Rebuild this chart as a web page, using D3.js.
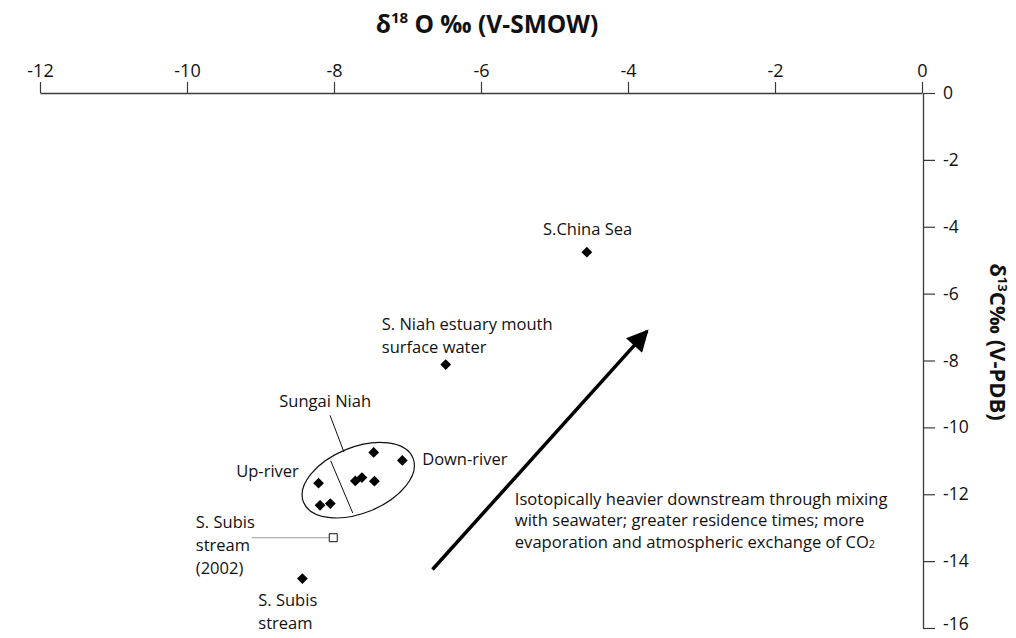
<!DOCTYPE html>
<html>
<head>
<meta charset="utf-8">
<script src="https://cdn.jsdelivr.net/npm/d3@7"></script>
<style>
  html, body { margin: 0; padding: 0; background: #fff; }
  svg { display: block; font-family: "Open Sans", "Noto Sans", sans-serif; }
</style>
</head>
<body>
<svg id="chart" width="1016" height="638"></svg>
<script>
// Isotope values: δ18O (‰ V-SMOW) and δ13C (‰ V-PDB)
const seaD18O = [-4.56];
const seaD13C = [-4.76];

const estuaryD18O = [-6.48];
const estuaryD13C = [-8.12];

// Sungai Niah river water samples
const niahD18O = [-7.46, -7.07, -8.21, -7.71, -7.62, -7.45, -8.19, -8.05];
const niahD13C = [-10.75, -10.99, -11.67, -11.60, -11.50, -11.61, -12.33, -12.28];

const subis2002D18O = [-8.01];
const subis2002D13C = [-13.30];

const subisD18O = [-8.43];
const subisD13C = [-14.52];

const xTicks = [-12, -10, -8, -6, -4, -2, 0];
const yTicks = [0, -2, -4, -6, -8, -10, -12, -14, -16];

const svg = d3.select("#chart");

const x = d3.scaleLinear().domain([-12, 0]).range([40, 922]);
const y = d3.scaleLinear().domain([0, -16]).range([93, 628]);

const axisColor = "#3a3a3a";

// Top axis (δ18O)
const gx = svg.append("g")
  .attr("transform", `translate(0,${y(0)})`)
  .call(d3.axisTop(x).tickValues(xTicks).tickSize(11).tickSizeOuter(0).tickPadding(5)
    .tickFormat(d => String(d)));
gx.select(".domain").attr("stroke", axisColor).attr("stroke-width", 1.3);
gx.selectAll(".tick line").attr("stroke", axisColor).attr("stroke-width", 1.2);
gx.selectAll(".tick text").attr("font-size", 18).attr("fill", "#111")
  .attr("font-family", "'Open Sans', sans-serif");

// Right axis (δ13C)
const gy = svg.append("g")
  .attr("transform", `translate(${x(0) + 1},0)`)
  .call(d3.axisRight(y).tickValues(yTicks).tickSize(12).tickSizeOuter(0).tickPadding(8)
    .tickFormat(d => String(d)));
gy.select(".domain").attr("stroke", axisColor).attr("stroke-width", 1.3);
gy.selectAll(".tick line").attr("stroke", axisColor).attr("stroke-width", 1.2);
gy.selectAll(".tick text").attr("font-size", 17.5).attr("fill", "#111")
  .attr("font-family", "'Open Sans', sans-serif");
// keep the lowest label inside the frame
gy.selectAll(".tick text").filter(d => d === -16).attr("dy", "0.1em");

// Axis titles
const xTitle = svg.append("text")
  .attr("x", 487).attr("y", 33)
  .attr("text-anchor", "middle")
  .attr("font-size", 24.5).attr("font-weight", "bold").attr("fill", "#111");
xTitle.append("tspan").text("δ");
xTitle.append("tspan").attr("font-size", 15).attr("dy", -10).text("18");
xTitle.append("tspan").attr("dy", 10).text(" O ‰ (V-SMOW)");

const yTitle = svg.append("text")
  .attr("transform", `translate(990,${342}) rotate(90)`)
  .attr("text-anchor", "middle")
  .attr("font-size", 22).attr("font-weight", "bold").attr("fill", "#111");
yTitle.append("tspan").text("δ");
yTitle.append("tspan").attr("font-size", 13).attr("dy", -8).text("13");
yTitle.append("tspan").attr("dy", 8).text("C‰ (V-PDB)");

// Mixing trend arrow
const defs = svg.append("defs");
defs.append("marker")
  .attr("id", "head")
  .attr("viewBox", "0 0 10 10")
  .attr("refX", 9).attr("refY", 5)
  .attr("markerWidth", 7).attr("markerHeight", 6.2)
  .attr("markerUnits", "strokeWidth")
  .attr("orient", "auto")
  .append("path").attr("d", "M0,0 L10,5 L0,10 Z").attr("fill", "#000");

const arrowFrom = [-6.66, -14.25];
const arrowTo = [-3.74, -7.12];
svg.append("line")
  .attr("x1", x(arrowFrom[0])).attr("y1", y(arrowFrom[1]))
  .attr("x2", x(arrowTo[0])).attr("y2", y(arrowTo[1]))
  .attr("stroke", "#000").attr("stroke-width", 3.5)
  .attr("marker-end", "url(#head)");

// Sungai Niah grouping ellipse with up-/down-river divider
const ellCenter = [-7.67, -11.58];
svg.append("ellipse")
  .attr("transform", `translate(${x(ellCenter[0])},${y(ellCenter[1])}) rotate(-22)`)
  .attr("rx", 59).attr("ry", 33)
  .attr("fill", "none").attr("stroke", "#111").attr("stroke-width", 1.2);

svg.append("line")
  .attr("x1", x(-8.045)).attr("y1", y(-11.00))
  .attr("x2", x(-7.745)).attr("y2", y(-12.56))
  .attr("stroke", "#111").attr("stroke-width", 1);

svg.append("line")
  .attr("x1", x(-8.054)).attr("y1", y(-9.64))
  .attr("x2", x(-7.864)).attr("y2", y(-10.74))
  .attr("stroke", "#111").attr("stroke-width", 1);

// Leader for the 2002 S. Subis sample
svg.append("line")
  .attr("x1", x(-9.12)).attr("y1", y(subis2002D13C[0]))
  .attr("x2", x(subis2002D18O[0]) - 4).attr("y2", y(subis2002D13C[0]))
  .attr("stroke", "#999").attr("stroke-width", 1);

// Filled diamond markers
const diamond = d3.symbol(d3.symbolSquare, 58);
function diamonds(xs, ys) {
  svg.append("g").selectAll("path")
    .data(xs.map((v, i) => [v, ys[i]]))
    .join("path")
    .attr("d", diamond)
    .attr("transform", d => `translate(${x(d[0])},${y(d[1])}) rotate(45)`)
    .attr("fill", "#000");
}
diamonds(seaD18O, seaD13C);
diamonds(estuaryD18O, estuaryD13C);
diamonds(niahD18O, niahD13C);
diamonds(subisD18O, subisD13C);

// Open square marker (2002 sample)
svg.append("g").selectAll("path")
  .data(subis2002D18O.map((v, i) => [v, subis2002D13C[i]]))
  .join("path")
  .attr("d", d3.symbol(d3.symbolSquare, 64))
  .attr("transform", d => `translate(${x(d[0])},${y(d[1])})`)
  .attr("fill", "#fff").attr("stroke", "#111").attr("stroke-width", 1);

// Labels
const labels = [
  { lines: ["S.China Sea"], at: [-4.55, -4.26], anchor: "middle" },
  { lines: ["S. Niah estuary mouth", "surface water"], at: [-7.35, -7.08], anchor: "start" },
  { lines: ["Sungai Niah"], at: [-8.12, -9.40], anchor: "middle" },
  { lines: ["Up-river"], at: [-9.33, -11.49], anchor: "start" },
  { lines: ["Down-river"], at: [-6.80, -11.13], anchor: "start" },
  { lines: ["S. Subis", "stream", "(2002)"], at: [-9.88, -13.01], anchor: "start" },
  { lines: ["S. Subis", "stream"], at: [-9.03, -15.33], anchor: "start" }
];
labels.forEach(l => {
  const t = svg.append("text")
    .attr("x", x(l.at[0])).attr("y", y(l.at[1]))
    .attr("text-anchor", l.anchor)
    .attr("font-size", 16.5).attr("fill", "#111");
  l.lines.forEach((s, i) => {
    t.append("tspan").attr("x", x(l.at[0])).attr("dy", i === 0 ? 0 : 23).text(s);
  });
});

// Explanatory note beside the arrow
const noteAt = [-5.54, -12.32];
const note = svg.append("text")
  .attr("x", x(noteAt[0])).attr("y", y(noteAt[1]))
  .attr("font-size", 16.6).attr("fill", "#111");
note.append("tspan").attr("x", x(noteAt[0])).attr("dy", 0)
  .text("Isotopically heavier downstream through mixing");
note.append("tspan").attr("x", x(noteAt[0])).attr("dy", 21.5)
  .text("with seawater; greater residence times; more");
note.append("tspan").attr("x", x(noteAt[0])).attr("dy", 21.5)
  .text("evaporation and atmospheric exchange of CO");
note.append("tspan").attr("font-size", 11).text("2");
</script>
</body>
</html>
